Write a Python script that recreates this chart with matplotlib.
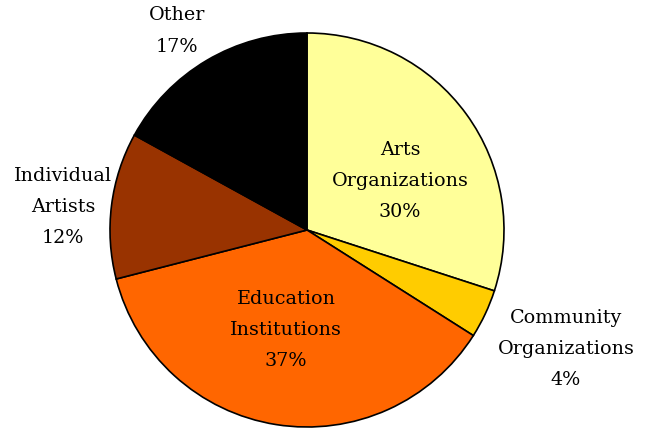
import matplotlib
matplotlib.use("Agg")
import matplotlib.pyplot as plt

labels = ["Arts\nOrganizations", "Community\nOrganizations", "Education\nInstitutions", "Individual\nArtists", "Other"]
values = [30, 4, 37, 12, 17]
colors = ["#FFFF99", "#FFCC00", "#FF6600", "#993300", "#000000"]
# label positions in pixel coords (x, y from top)
label_pos = [(400, 181), (566, 349), (286, 330), (63, 207), (177, 31)]

W, H = 647, 429
fig = plt.figure(figsize=(W / 100, H / 100), dpi=100)
ax = fig.add_axes([0, 0, 1, 1])
cx, cy, r = 307, 230, 197
ax.pie(values, colors=colors, startangle=90, counterclock=False,
       center=(cx, H - cy), radius=r, frame=True,
       wedgeprops=dict(edgecolor="black", linewidth=1.2))
for lab, v, (x, y) in zip(labels, values, label_pos):
    ax.text(x, H - y, f"{lab}\n{v}%", ha="center", va="center",
            fontsize=13.8, family="DejaVu Serif", linespacing=1.95, color="black")
ax.set_xlim(0, W)
ax.set_ylim(0, H)
ax.set_aspect("equal")
ax.axis("off")
fig.savefig("out.png", dpi=100)
